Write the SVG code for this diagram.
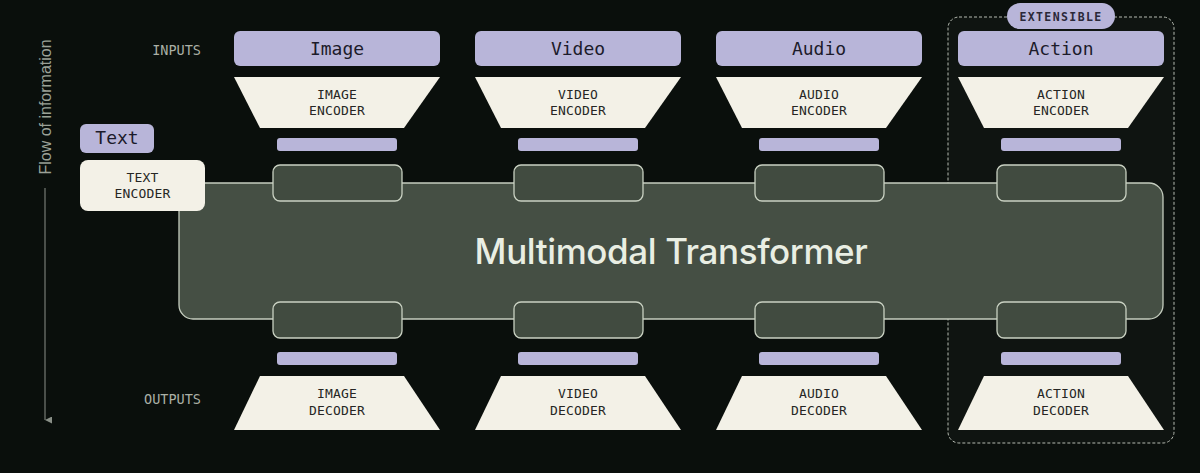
<svg xmlns="http://www.w3.org/2000/svg" width="1200" height="473" viewBox="0 0 1200 473">
<defs>
<style>
.lav{fill:#b8b5d9;}
.cream{fill:#f3f1e7;}
.tok{fill:#414b40;stroke:#c9d1c2;stroke-width:1.3;}
.mono{font-family:"DejaVu Sans Mono","Liberation Mono",monospace;}
.lbl{font-family:"DejaVu Sans Mono","Liberation Mono",monospace;font-size:18px;fill:#1c1b2b;text-anchor:middle;}
.enc{font-family:"DejaVu Sans Mono","Liberation Mono",monospace;font-size:13px;fill:#262624;text-anchor:middle;letter-spacing:0.2px;}
.side{font-family:"DejaVu Sans Mono","Liberation Mono",monospace;font-size:13.5px;fill:#aab0a6;text-anchor:end;}
</style>
<marker id="arr" viewBox="0 0 10 10" refX="5" refY="10" markerWidth="7" markerHeight="7" orient="auto-start-reverse" markerUnits="userSpaceOnUse">
<path d="M0,0 L10,0 L5,10 Z" fill="#8a9088"/>
</marker>
</defs>
<rect x="0" y="0" width="1200" height="473" fill="#0a0f0c"/>

<g id="extensible-frame">
<rect x="948" y="17" width="226" height="426" rx="11" fill="#ffffff" fill-opacity="0.025" stroke="#b5bab1" stroke-width="1" stroke-dasharray="3 2"/>
<rect x="1007" y="3" width="108" height="26" rx="13" class="lav"/>
<text x="1061" y="20.5" class="mono" font-size="11.5" font-weight="bold" fill="#2a2838" text-anchor="middle" letter-spacing="1.4">EXTENSIBLE</text>
</g>

<g id="connectors">
<line x1="45" y1="188" x2="45" y2="420" stroke="#8a9088" stroke-width="1" marker-end="url(#arr)"/>
</g>

<g id="flow-label">
<text transform="translate(50.5,107) rotate(-90)" font-family="Liberation Sans, Arial, sans-serif" font-size="16" fill="#9ba197" text-anchor="middle">Flow of information</text>
</g>

<g id="side-labels">
<text x="201" y="55" class="side">INPUTS</text>
<text x="201" y="404" class="side">OUTPUTS</text>
</g>

<g id="transformer">
<rect x="179" y="183" width="984" height="136" rx="14" fill="#454f44" stroke="#c5cdbf" stroke-width="1.3"/>
<text x="671" y="264" font-family="Inter, 'Noto Sans', sans-serif" font-size="35" font-weight="500" fill="#e9eee3" text-anchor="middle" letter-spacing="-0.4">Multimodal Transformer</text>
</g>

<g id="text-input">
<rect x="80" y="124" width="74" height="29" rx="6" class="lav"/>
<text x="117" y="144" class="lbl">Text</text>
</g>
<g id="text-encoder">
<rect x="80" y="160" width="125" height="51" rx="8" class="cream"/>
<text x="142.5" y="182" class="enc">TEXT</text>
<text x="142.5" y="198" class="enc">ENCODER</text>
</g>

<!-- Image column -->
<g id="image-input">
<rect x="234" y="31" width="206" height="35" rx="6" class="lav"/>
<text x="337" y="55" class="lbl">Image</text>
</g>
<g id="image-encoder">
<polygon points="234,77 440,77 404,128 260,128" class="cream"/>
<text x="337" y="99" class="enc">IMAGE</text>
<text x="337" y="115" class="enc">ENCODER</text>
</g>
<g id="image-token-in">
<rect x="277" y="138" width="120" height="13" rx="3" class="lav"/>
<rect x="273" y="165" width="129" height="36" rx="7" class="tok"/>
</g>
<g id="image-token-out">
<rect x="273" y="302" width="129" height="36" rx="7" class="tok"/>
<rect x="277" y="352" width="120" height="13" rx="3" class="lav"/>
</g>
<g id="image-decoder">
<polygon points="260,376 404,376 440,430 234,430" class="cream"/>
<text x="337" y="398" class="enc">IMAGE</text>
<text x="337" y="415" class="enc">DECODER</text>
</g>

<!-- Video column -->
<g id="video-input">
<rect x="475" y="31" width="206" height="35" rx="6" class="lav"/>
<text x="578" y="55" class="lbl">Video</text>
</g>
<g id="video-encoder">
<polygon points="475,77 681,77 645,128 501,128" class="cream"/>
<text x="578" y="99" class="enc">VIDEO</text>
<text x="578" y="115" class="enc">ENCODER</text>
</g>
<g id="video-token-in">
<rect x="518" y="138" width="120" height="13" rx="3" class="lav"/>
<rect x="514" y="165" width="129" height="36" rx="7" class="tok"/>
</g>
<g id="video-token-out">
<rect x="514" y="302" width="129" height="36" rx="7" class="tok"/>
<rect x="518" y="352" width="120" height="13" rx="3" class="lav"/>
</g>
<g id="video-decoder">
<polygon points="501,376 645,376 681,430 475,430" class="cream"/>
<text x="578" y="398" class="enc">VIDEO</text>
<text x="578" y="415" class="enc">DECODER</text>
</g>

<!-- Audio column -->
<g id="audio-input">
<rect x="716" y="31" width="206" height="35" rx="6" class="lav"/>
<text x="819" y="55" class="lbl">Audio</text>
</g>
<g id="audio-encoder">
<polygon points="716,77 922,77 886,128 742,128" class="cream"/>
<text x="819" y="99" class="enc">AUDIO</text>
<text x="819" y="115" class="enc">ENCODER</text>
</g>
<g id="audio-token-in">
<rect x="759" y="138" width="120" height="13" rx="3" class="lav"/>
<rect x="755" y="165" width="129" height="36" rx="7" class="tok"/>
</g>
<g id="audio-token-out">
<rect x="755" y="302" width="129" height="36" rx="7" class="tok"/>
<rect x="759" y="352" width="120" height="13" rx="3" class="lav"/>
</g>
<g id="audio-decoder">
<polygon points="742,376 886,376 922,430 716,430" class="cream"/>
<text x="819" y="398" class="enc">AUDIO</text>
<text x="819" y="415" class="enc">DECODER</text>
</g>

<!-- Action column -->
<g id="action-input">
<rect x="958" y="31" width="206" height="35" rx="6" class="lav"/>
<text x="1061" y="55" class="lbl">Action</text>
</g>
<g id="action-encoder">
<polygon points="958,77 1164,77 1128,128 984,128" class="cream"/>
<text x="1061" y="99" class="enc">ACTION</text>
<text x="1061" y="115" class="enc">ENCODER</text>
</g>
<g id="action-token-in">
<rect x="1001" y="138" width="120" height="13" rx="3" class="lav"/>
<rect x="997" y="165" width="129" height="36" rx="7" class="tok"/>
</g>
<g id="action-token-out">
<rect x="997" y="302" width="129" height="36" rx="7" class="tok"/>
<rect x="1001" y="352" width="120" height="13" rx="3" class="lav"/>
</g>
<g id="action-decoder">
<polygon points="984,376 1128,376 1164,430 958,430" class="cream"/>
<text x="1061" y="398" class="enc">ACTION</text>
<text x="1061" y="415" class="enc">DECODER</text>
</g>
</svg>
